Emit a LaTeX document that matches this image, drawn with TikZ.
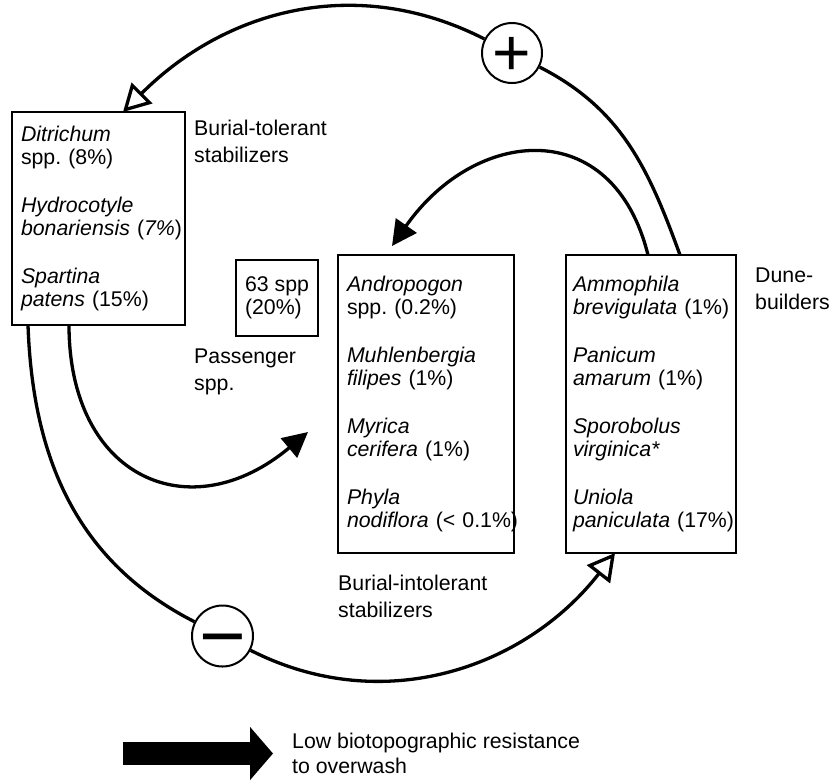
\documentclass[tikz,border=0pt]{standalone}
\usepackage{fontspec}
\setmainfont{Liberation Sans}
\usetikzlibrary{arrows.meta}
\begin{document}
\begin{tikzpicture}[x=1pt,y=1pt,
  box/.style={draw, line width=1.7pt, align=left, inner ysep=0pt,
    font=\fontsize{21.3}{23}\selectfont},
  lab/.style={align=left, anchor=north west, inner sep=0pt,
    font=\fontsize{21.3}{27}\selectfont},
  flow/.style={line width=3.3pt},
  sign/.style={circle, draw, line width=2pt, fill=white, inner sep=0pt,
    text height=0pt, text depth=0pt},
  opentip/.style={-{Triangle[open,length=27pt,width=29pt]}},
  filltip/.style={-{Triangle[length=25pt,width=25pt]}}]
\fill[white] (0,0) rectangle (832,-780);
\path[use as bounding box] (0,0) rectangle (832,-780);

% boxes
\node[box, minimum width=173pt, minimum height=213pt, inner xsep=9pt, text width=155pt]
  (tol) at (98.5,-218.5)
  {\textit{Ditrichum}\\spp.~(8\%)\\[25pt]\textit{Hydrocotyle}\\\textit{bonariensis}~(\textit{7\%})\\[25pt]\textit{Spartina}\\\textit{patens}~(15\%)};
\node[box, minimum width=82pt, minimum height=76pt, inner xsep=0pt]
  (pass) at (277,-298) {63 spp\\(20\%)};
\node[box, minimum width=176pt, minimum height=298pt, inner xsep=9pt, text width=158pt]
  (intol) at (426,-404)
  {\textit{Andropogon}\\spp.~(0.2\%)\\[25pt]\textit{Muhlenbergia}\\\textit{filipes}~(1\%)\\[25pt]\textit{Myrica}\\\textit{cerifera}~(1\%)\\[25pt]\textit{Phyla}\\\textit{nodiflora}~(<~0.1\%)};
\node[box, minimum width=170pt, minimum height=298pt, inner xsep=7pt, text width=156pt]
  (dune) at (651,-404)
  {\textit{Ammophila}\\\textit{brevigulata}~(1\%)\\[25pt]\textit{Panicum}\\\textit{amarum}~(1\%)\\[25pt]\textit{Sporobolus}\\\textit{virginica*}\\[25pt]\textit{Uniola}\\\textit{paniculata}~(17\%)};

% labels
\node[lab] (ltol) at (194,-120) {Burial-tolerant\\stabilizers};
\node[lab] (lpass) at (194,-349) {Passenger\\spp.};
\node[lab] (lintol) at (338,-575) {Burial-intolerant\\stabilizers};
\node[lab] (ldune) at (755,-268) {Dune-\\builders};
\node[lab, font=\fontsize{21.3}{25}\selectfont] (llow) at (292,-733) {Low biotopographic resistance\\to overwash};

% sign circles
\node[sign, minimum size=60pt, font=\fontsize{66}{66}\selectfont] (plus) at (512,-53) {\raisebox{-0.34em}{+}};
\node[sign, minimum size=61pt, font=\fontsize{80}{80}\selectfont] (minus) at (222.5,-636) {\raisebox{-0.34em}{−}};

% connector end points
\coordinate (rA) at (680,-255);
\coordinate (rB) at (648,-255);
\coordinate (lA) at (28,-325);
\coordinate (lB) at (69,-325);
\coordinate (tipL) at (123,-112);
\coordinate (tipR) at (615,-553);
\coordinate (tipM) at (392,-246);
\coordinate (tipP) at (308,-432);
\coordinate (bA) at (123,-753.5);
\coordinate (bB) at (273,-753.5);

% connectors
\draw[flow] (rA) to[out=110,in=-27] (plus);
\draw[flow, opentip] (plus) to[out=153,in=45] (tipL);
\draw[flow] (lA) to[out=-88,in=153] (minus);
\draw[flow, opentip] (minus) to[out=-27,in=232] (tipR);
\draw[flow, filltip] (rB) to[out=104,in=55,looseness=1.45] (tipM);
\draw[flow, filltip] (lB) to[out=-90,in=220,looseness=1.5] (tipP);

% legend arrow
\draw[line width=23pt, -{Triangle[length=23pt,width=52pt]}] (bA) -- (bB);
\end{tikzpicture}
\end{document}
